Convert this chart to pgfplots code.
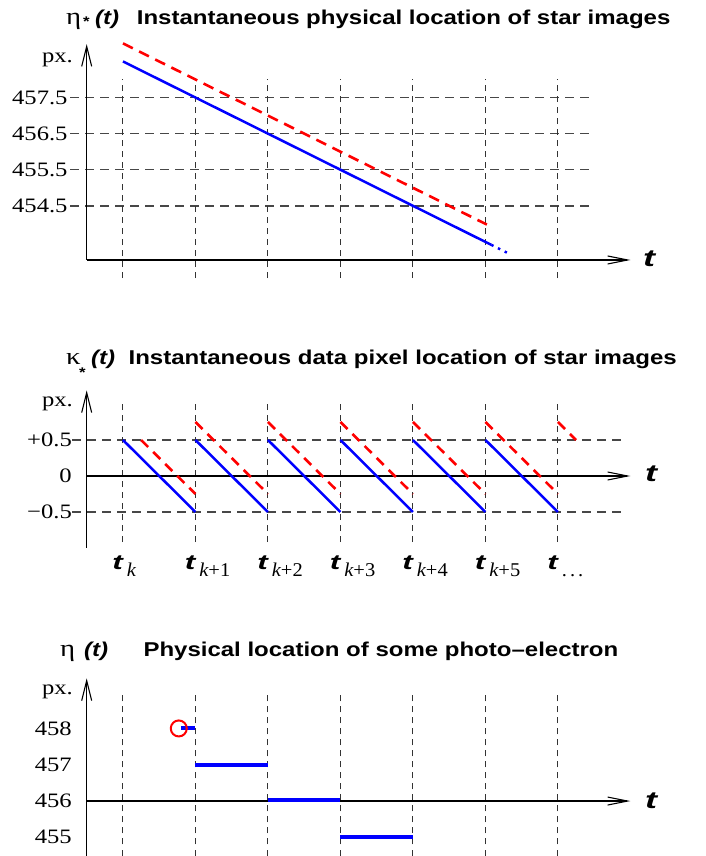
\documentclass[border=0pt]{standalone}
\usepackage{fontspec}
\setmainfont{Liberation Serif}[FakeStretch=1.2]
\newfontfamily\hv{Liberation Sans}[FakeStretch=1.2]
\newfontfamily\hvt{Liberation Sans}[FakeStretch=1.5]
\newfontfamily\ser{Liberation Serif}[FakeStretch=1.05]
\usepackage{pgfplots}
\pgfplotsset{compat=1.18}
\usetikzlibrary{arrows.meta}
\pgfplotsset{
 hgrid/.style={black!72, line width=1.5pt, dash pattern=on 9pt off 6pt},
 vgrid/.style={black!80, line width=1pt, dash pattern=on 6pt off 5pt},
 xarr/.style={black, line width=1.1pt, -{Straight Barb[length=20pt,width=8pt]}},
 yarr/.style={black, line width=1.1pt, -{Straight Barb[length=20pt,width=10pt]}},
 panel/.style={anchor=south west, x=72.5pt, xmin=-0.5, xmax=7, clip=false,
   axis line style={draw=none}, xtick=\empty, major tick length=0pt,
   ytick style={draw=none},
   yticklabel style={anchor=east, inner sep=0pt, font=\fontsize{20.5}{20.5}\selectfont},
   unbounded coords=jump},
}
\newcommand{\tlab}[2]{% x of vertical line, subscript
  \node[anchor=base west, inner sep=0pt] at (#1-10.5,286) {\hvt\bfseries\itshape\fontsize{21}{21}\selectfont t};
  \node[anchor=base west, inner sep=0pt] at (#1+4,279) {\ser\fontsize{19.5}{19.5}\selectfont #2};}
\begin{document}
\begin{tikzpicture}[x=1pt,y=1pt]
\path[use as bounding box] (0,0) rectangle (705,856);

% ---------- titles ----------
\node[anchor=base west, inner sep=0pt] at (66,831) {\fontsize{24}{24}\selectfont η};
\node[anchor=base west, inner sep=0pt] at (83,829) {\hv\bfseries\fontsize{14}{14}\selectfont *};
\node[anchor=base west, inner sep=0pt] at (95,831) {\hv\bfseries\itshape\fontsize{20}{20}\selectfont (t)};
\node[anchor=base west, inner sep=0pt] at (136.7,831) {\hv\bfseries\fontsize{20}{20}\selectfont Instantaneous physical location of star images};

\node[anchor=base west, inner sep=0pt] at (66,491) {\fontsize{24}{24}\selectfont κ};
\node[anchor=base west, inner sep=0pt] at (79,478) {\hv\bfseries\fontsize{14}{14}\selectfont *};
\node[anchor=base west, inner sep=0pt] at (91,491) {\hv\bfseries\itshape\fontsize{20}{20}\selectfont (t)};
\node[anchor=base west, inner sep=0pt] at (128.4,491) {\hv\bfseries\fontsize{20}{20}\selectfont Instantaneous data pixel location of star images};

\node[anchor=base west, inner sep=0pt] at (60,199) {\fontsize{24}{24}\selectfont η};
\node[anchor=base west, inner sep=0pt] at (84,199) {\hv\bfseries\itshape\fontsize{20}{20}\selectfont (t)};
\node[anchor=base west, inner sep=0pt] at (143.3,199) {\hv\bfseries\fontsize{20}{20}\selectfont Physical location of some photo–electron};

% px. labels
\node[anchor=base east, inner sep=0pt] at (73,793) {\fontsize{20.5}{20.5}\selectfont px.};
\node[anchor=base east, inner sep=0pt] at (73,449) {\fontsize{20.5}{20.5}\selectfont px.};
\node[anchor=base east, inner sep=0pt] at (73,161) {\fontsize{20.5}{20.5}\selectfont px.};

% t labels at arrows
\node[anchor=base west, inner sep=0pt] at (643,589) {\hvt\bfseries\itshape\fontsize{24}{24}\selectfont t};
\node[anchor=base west, inner sep=0pt] at (645,374.3) {\hvt\bfseries\itshape\fontsize{24}{24}\selectfont t};
\node[anchor=base west, inner sep=0pt] at (645,47.7) {\hvt\bfseries\itshape\fontsize{24}{24}\selectfont t};

% t_k labels
\tlab{122.7}{\itshape k}
\tlab{195.2}{\itshape k\upshape+1}
\tlab{267.7}{\itshape k\upshape+2}
\tlab{340.2}{\itshape k\upshape+3}
\tlab{412.7}{\itshape k\upshape+4}
\tlab{485.2}{\itshape k\upshape+5}
\tlab{557.7}{.\hspace{3pt}.\hspace{3pt}.}

% ---------- panel 1 ----------
\begin{axis}[panel, at={(86.7pt,596pt)}, y=36.1pt, ymin=453, ymax=459,
  ytick={454.5,455.5,456.5,457.5}, yticklabels={454.5,455.5,456.5,457.5},
  yticklabel style={xshift=-19pt}]
\addplot[hgrid] coordinates {(-0.73,454.5) (6.5,454.5) (nan,nan) (-0.73,455.5) (6.5,455.5) (nan,nan)
  (-0.73,456.5) (6.5,456.5) (nan,nan) (-0.73,457.5) (6.5,457.5)};
\addplot[vgrid] coordinates {(0,452.5) (0,458) (nan,nan) (1,452.5) (1,458) (nan,nan) (2,452.5) (2,458) (nan,nan)
  (3,452.5) (3,458) (nan,nan) (4,452.5) (4,458) (nan,nan) (5,452.5) (5,458) (nan,nan) (6,452.5) (6,458)};
\addplot[xarr] coordinates {(-0.5,453) (7,453)};
\addplot[yarr] coordinates {(-0.5,453) (-0.5,458.98)};
\addplot[red, line width=2.6pt, dash pattern=on 11pt off 7pt] coordinates {(0,459) (5.02,453.98)};
\addplot[blue, line width=2.5pt] coordinates {(0,458.5) (5.08,453.42)};
\addplot[blue, line width=2.5pt, dash pattern=on 2.5pt off 5pt] coordinates {(5.08,453.42) (5.33,453.17)};
\end{axis}

% ---------- panel 2 ----------
\begin{axis}[panel, at={(86.7pt,308pt)}, y=72pt, ymin=-1, ymax=1.19,
  ytick={-0.5,0,0.5}, yticklabels={−0.5,{0\hspace{9pt}},+0.5},
  yticklabel style={xshift=-14.7pt}]
\addplot[hgrid] coordinates {(-0.7,0.5) (6.95,0.5) (nan,nan) (-0.7,-0.5) (6.95,-0.5)};
\addplot[vgrid] coordinates {(0,-0.92) (0,1) (nan,nan) (1,-0.92) (1,1) (nan,nan) (2,-0.92) (2,1) (nan,nan)
  (3,-0.92) (3,1) (nan,nan) (4,-0.92) (4,1) (nan,nan) (5,-0.92) (5,1) (nan,nan) (6,-0.92) (6,1)};
\addplot[xarr] coordinates {(-0.5,0) (7,0)};
\addplot[yarr] coordinates {(-0.5,-1) (-0.5,1.19)};
\addplot[red, line width=2.6pt, dash pattern=on 10pt off 7pt] coordinates {
  (0.25,0.5) (1,-0.25) (nan,nan) (1,0.75) (2,-0.25) (nan,nan) (2,0.75) (3,-0.25) (nan,nan)
  (3,0.75) (4,-0.25) (nan,nan) (4,0.75) (5,-0.25) (nan,nan) (5,0.75) (6,-0.25) (nan,nan) (6,0.75) (6.25,0.5)};
\addplot[blue, line width=2.5pt] coordinates {
  (0,0.5) (1,-0.5) (nan,nan) (1,0.5) (2,-0.5) (nan,nan) (2,0.5) (3,-0.5) (nan,nan)
  (3,0.5) (4,-0.5) (nan,nan) (4,0.5) (5,-0.5) (nan,nan) (5,0.5) (6,-0.5)};
\end{axis}

% ---------- panel 3 ----------
\begin{axis}[panel, at={(86.7pt,0.5pt)}, y=36.3pt, ymin=454.5, ymax=459.38,
  ytick={455,456,457,458}, yticklabels={455,456,457,458},
  yticklabel style={xshift=-14.7pt}]
\addplot[vgrid] coordinates {(0,454.5) (0,459) (nan,nan) (1,454.5) (1,459) (nan,nan) (2,454.5) (2,459) (nan,nan)
  (3,454.5) (3,459) (nan,nan) (4,454.5) (4,459) (nan,nan) (5,454.5) (5,459) (nan,nan) (6,454.5) (6,459)};
\addplot[xarr] coordinates {(-0.5,456) (7,456)};
\addplot[yarr] coordinates {(-0.5,454.5) (-0.5,459.38)};
\addplot[red, line width=2pt, only marks, mark=o, mark size=8pt] coordinates {(0.77,458)};
\addplot[blue, line width=4pt] coordinates {(0.8,458) (1,458) (nan,nan) (1,457) (2,457) (nan,nan)
  (2,456.03) (3,456.03) (nan,nan) (3,455) (4,455)};
\end{axis}
\end{tikzpicture}
\end{document}
